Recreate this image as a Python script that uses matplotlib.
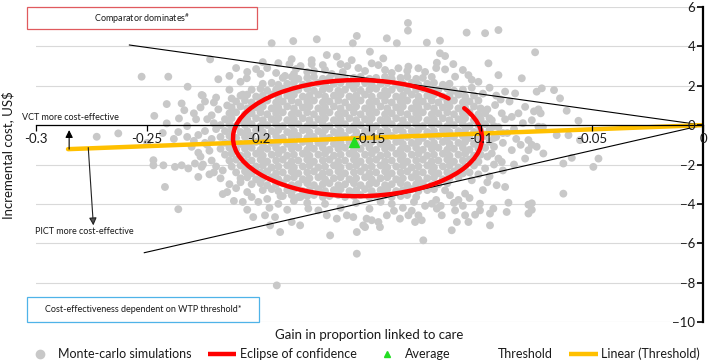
import matplotlib
matplotlib.use('Agg')
import numpy as np
import matplotlib.pyplot as plt
from matplotlib.patches import Arc, Rectangle
from matplotlib.lines import Line2D

plt.rcParams['font.family'] = ['Lato', 'DejaVu Sans']
plt.rcParams['mathtext.fontset'] = 'custom'
plt.rcParams['mathtext.rm'] = 'Lato'
plt.rcParams['mathtext.default'] = 'regular'

# ---------------- data ----------------
x_ticks = [-0.3, -0.25, -0.2, -0.15, -0.1, -0.05, 0]
x_tick_labels = ['-0.3', '-0.25', '-0.2', '-0.15', '-0.1', '-0.05', '0']
y_ticks = [-10, -8, -6, -4, -2, 0, 2, 4, 6]

# Monte-carlo simulations: dense core of the cloud (read row by row)
mc_core = [
    (-0.189,2.4),(-0.185,2.45),(-0.182,2.35),(-0.178,2.4),(-0.175,2.45),(-0.171,2.35),(-0.168,2.4),(-0.164,2.45),(-0.161,2.35),(-0.157,2.4),(-0.154,2.45),(-0.150,2.35),(-0.147,2.4),(-0.143,2.45),(-0.140,2.35),(-0.136,2.4),(-0.133,2.45),(-0.129,2.35),(-0.126,2.4),(-0.122,2.45),
    (-0.198,2.1),(-0.194,2.15),(-0.191,2.05),(-0.187,2.1),(-0.184,2.15),(-0.180,2.05),(-0.177,2.1),(-0.173,2.15),(-0.170,2.05),(-0.166,2.1),(-0.163,2.15),(-0.159,2.05),(-0.156,2.1),(-0.152,2.15),(-0.149,2.05),(-0.145,2.1),(-0.142,2.15),(-0.138,2.05),(-0.135,2.1),(-0.131,2.15),(-0.128,2.05),(-0.124,2.1),(-0.121,2.15),(-0.117,2.05),(-0.114,2.1),
    (-0.203,1.8),(-0.199,1.85),(-0.196,1.75),(-0.192,1.8),(-0.189,1.85),(-0.185,1.75),(-0.182,1.8),(-0.178,1.85),(-0.175,1.75),(-0.171,1.8),(-0.168,1.85),(-0.164,1.75),(-0.161,1.8),(-0.157,1.85),(-0.154,1.75),(-0.150,1.8),(-0.147,1.85),(-0.143,1.75),(-0.140,1.8),(-0.136,1.85),(-0.133,1.75),(-0.129,1.8),(-0.126,1.85),(-0.122,1.75),(-0.119,1.8),(-0.115,1.85),(-0.112,1.75),(-0.108,1.8),
    (-0.208,1.5),(-0.205,1.55),(-0.201,1.45),(-0.198,1.5),(-0.194,1.55),(-0.191,1.45),(-0.187,1.5),(-0.184,1.55),(-0.180,1.45),(-0.177,1.5),(-0.173,1.55),(-0.170,1.45),(-0.166,1.5),(-0.163,1.55),(-0.159,1.45),(-0.156,1.5),(-0.152,1.55),(-0.149,1.45),(-0.145,1.5),(-0.142,1.55),(-0.138,1.45),(-0.135,1.5),(-0.131,1.55),(-0.128,1.45),(-0.124,1.5),(-0.121,1.55),(-0.117,1.45),(-0.114,1.5),(-0.110,1.55),(-0.107,1.45),(-0.103,1.5),
    (-0.210,1.2),(-0.206,1.25),(-0.203,1.15),(-0.199,1.2),(-0.196,1.25),(-0.192,1.15),(-0.189,1.2),(-0.185,1.25),(-0.182,1.15),(-0.178,1.2),(-0.175,1.25),(-0.171,1.15),(-0.168,1.2),(-0.164,1.25),(-0.161,1.15),(-0.157,1.2),(-0.154,1.25),(-0.150,1.15),(-0.147,1.2),(-0.143,1.25),(-0.140,1.15),(-0.136,1.2),(-0.133,1.25),(-0.129,1.15),(-0.126,1.2),(-0.122,1.25),(-0.119,1.15),(-0.115,1.2),(-0.112,1.25),(-0.108,1.15),(-0.105,1.2),(-0.101,1.25),
    (-0.212,0.9),(-0.208,0.95),(-0.205,0.85),(-0.201,0.9),(-0.198,0.95),(-0.194,0.85),(-0.191,0.9),(-0.187,0.95),(-0.184,0.85),(-0.180,0.9),(-0.177,0.95),(-0.173,0.85),(-0.170,0.9),(-0.166,0.95),(-0.163,0.85),(-0.159,0.9),(-0.156,0.95),(-0.152,0.85),(-0.149,0.9),(-0.145,0.95),(-0.142,0.85),(-0.138,0.9),(-0.135,0.95),(-0.131,0.85),(-0.128,0.9),(-0.124,0.95),(-0.121,0.85),(-0.117,0.9),(-0.114,0.95),(-0.110,0.85),(-0.107,0.9),(-0.103,0.95),(-0.100,0.85),
    (-0.213,0.6),(-0.210,0.65),(-0.206,0.55),(-0.203,0.6),(-0.199,0.65),(-0.196,0.55),(-0.192,0.6),(-0.189,0.65),(-0.185,0.55),(-0.182,0.6),(-0.178,0.65),(-0.175,0.55),(-0.171,0.6),(-0.168,0.65),(-0.164,0.55),(-0.161,0.6),(-0.157,0.65),(-0.154,0.55),(-0.150,0.6),(-0.147,0.65),(-0.143,0.55),(-0.140,0.6),(-0.136,0.65),(-0.133,0.55),(-0.129,0.6),(-0.126,0.65),(-0.122,0.55),(-0.119,0.6),(-0.115,0.65),(-0.112,0.55),(-0.108,0.6),(-0.105,0.65),(-0.101,0.55),(-0.098,0.6),
    (-0.215,0.3),(-0.212,0.35),(-0.208,0.25),(-0.205,0.3),(-0.201,0.35),(-0.198,0.25),(-0.194,0.3),(-0.191,0.35),(-0.187,0.25),(-0.184,0.3),(-0.180,0.35),(-0.177,0.25),(-0.173,0.3),(-0.170,0.35),(-0.166,0.25),(-0.163,0.3),(-0.159,0.35),(-0.156,0.25),(-0.152,0.3),(-0.149,0.35),(-0.145,0.25),(-0.142,0.3),(-0.138,0.35),(-0.135,0.25),(-0.131,0.3),(-0.128,0.35),(-0.124,0.25),(-0.121,0.3),(-0.117,0.35),(-0.114,0.25),(-0.110,0.3),(-0.107,0.35),(-0.103,0.25),(-0.100,0.3),(-0.096,0.35),
    (-0.217,0.0),(-0.213,0.05),(-0.210,-0.05),(-0.206,0.0),(-0.203,0.05),(-0.199,-0.05),(-0.196,0.0),(-0.192,0.05),(-0.189,-0.05),(-0.185,0.0),(-0.182,0.05),(-0.178,-0.05),(-0.175,0.0),(-0.171,0.05),(-0.168,-0.05),(-0.164,0.0),(-0.161,0.05),(-0.157,-0.05),(-0.154,0.0),(-0.150,0.05),(-0.147,-0.05),(-0.143,0.0),(-0.140,0.05),(-0.136,-0.05),(-0.133,0.0),(-0.129,0.05),(-0.126,-0.05),(-0.122,0.0),(-0.119,0.05),(-0.115,-0.05),(-0.112,0.0),(-0.108,0.05),(-0.105,-0.05),(-0.101,0.0),(-0.098,0.05),(-0.094,-0.05),
    (-0.215,-0.3),(-0.212,-0.25),(-0.208,-0.35),(-0.205,-0.3),(-0.201,-0.25),(-0.198,-0.35),(-0.194,-0.3),(-0.191,-0.25),(-0.187,-0.35),(-0.184,-0.3),(-0.180,-0.25),(-0.177,-0.35),(-0.173,-0.3),(-0.170,-0.25),(-0.166,-0.35),(-0.163,-0.3),(-0.159,-0.25),(-0.156,-0.35),(-0.152,-0.3),(-0.149,-0.25),(-0.145,-0.35),(-0.142,-0.3),(-0.138,-0.25),(-0.135,-0.35),(-0.131,-0.3),(-0.128,-0.25),(-0.124,-0.35),(-0.121,-0.3),(-0.117,-0.25),(-0.114,-0.35),(-0.110,-0.3),(-0.107,-0.25),(-0.103,-0.35),(-0.100,-0.3),(-0.096,-0.25),
    (-0.217,-0.6),(-0.213,-0.55),(-0.210,-0.65),(-0.206,-0.6),(-0.203,-0.55),(-0.199,-0.65),(-0.196,-0.6),(-0.192,-0.55),(-0.189,-0.65),(-0.185,-0.6),(-0.182,-0.55),(-0.178,-0.65),(-0.175,-0.6),(-0.171,-0.55),(-0.168,-0.65),(-0.164,-0.6),(-0.161,-0.55),(-0.157,-0.65),(-0.154,-0.6),(-0.150,-0.55),(-0.147,-0.65),(-0.143,-0.6),(-0.140,-0.55),(-0.136,-0.65),(-0.133,-0.6),(-0.129,-0.55),(-0.126,-0.65),(-0.122,-0.6),(-0.119,-0.55),(-0.115,-0.65),(-0.112,-0.6),(-0.108,-0.55),(-0.105,-0.65),(-0.101,-0.6),(-0.098,-0.55),(-0.094,-0.65),
    (-0.215,-0.9),(-0.212,-0.85),(-0.208,-0.95),(-0.205,-0.9),(-0.201,-0.85),(-0.198,-0.95),(-0.194,-0.9),(-0.191,-0.85),(-0.187,-0.95),(-0.184,-0.9),(-0.180,-0.85),(-0.177,-0.95),(-0.173,-0.9),(-0.170,-0.85),(-0.166,-0.95),(-0.163,-0.9),(-0.159,-0.85),(-0.156,-0.95),(-0.152,-0.9),(-0.149,-0.85),(-0.145,-0.95),(-0.142,-0.9),(-0.138,-0.85),(-0.135,-0.95),(-0.131,-0.9),(-0.128,-0.85),(-0.124,-0.95),(-0.121,-0.9),(-0.117,-0.85),(-0.114,-0.95),(-0.110,-0.9),(-0.107,-0.85),(-0.103,-0.95),(-0.100,-0.9),(-0.096,-0.85),
    (-0.217,-1.2),(-0.213,-1.15),(-0.210,-1.25),(-0.206,-1.2),(-0.203,-1.15),(-0.199,-1.25),(-0.196,-1.2),(-0.192,-1.15),(-0.189,-1.25),(-0.185,-1.2),(-0.182,-1.15),(-0.178,-1.25),(-0.175,-1.2),(-0.171,-1.15),(-0.168,-1.25),(-0.164,-1.2),(-0.161,-1.15),(-0.157,-1.25),(-0.154,-1.2),(-0.150,-1.15),(-0.147,-1.25),(-0.143,-1.2),(-0.140,-1.15),(-0.136,-1.25),(-0.133,-1.2),(-0.129,-1.15),(-0.126,-1.25),(-0.122,-1.2),(-0.119,-1.15),(-0.115,-1.25),(-0.112,-1.2),(-0.108,-1.15),(-0.105,-1.25),(-0.101,-1.2),(-0.098,-1.15),
    (-0.215,-1.5),(-0.212,-1.45),(-0.208,-1.55),(-0.205,-1.5),(-0.201,-1.45),(-0.198,-1.55),(-0.194,-1.5),(-0.191,-1.45),(-0.187,-1.55),(-0.184,-1.5),(-0.180,-1.45),(-0.177,-1.55),(-0.173,-1.5),(-0.170,-1.45),(-0.166,-1.55),(-0.163,-1.5),(-0.159,-1.45),(-0.156,-1.55),(-0.152,-1.5),(-0.149,-1.45),(-0.145,-1.55),(-0.142,-1.5),(-0.138,-1.45),(-0.135,-1.55),(-0.131,-1.5),(-0.128,-1.45),(-0.124,-1.55),(-0.121,-1.5),(-0.117,-1.45),(-0.114,-1.55),(-0.110,-1.5),(-0.107,-1.45),(-0.103,-1.55),(-0.100,-1.5),
    (-0.213,-1.8),(-0.210,-1.75),(-0.206,-1.85),(-0.203,-1.8),(-0.199,-1.75),(-0.196,-1.85),(-0.192,-1.8),(-0.189,-1.75),(-0.185,-1.85),(-0.182,-1.8),(-0.178,-1.75),(-0.175,-1.85),(-0.171,-1.8),(-0.168,-1.75),(-0.164,-1.85),(-0.161,-1.8),(-0.157,-1.75),(-0.154,-1.85),(-0.150,-1.8),(-0.147,-1.75),(-0.143,-1.85),(-0.140,-1.8),(-0.136,-1.75),(-0.133,-1.85),(-0.129,-1.8),(-0.126,-1.75),(-0.122,-1.85),(-0.119,-1.8),(-0.115,-1.75),(-0.112,-1.85),(-0.108,-1.8),(-0.105,-1.75),(-0.101,-1.85),
    (-0.212,-2.1),(-0.208,-2.05),(-0.205,-2.15),(-0.201,-2.1),(-0.198,-2.05),(-0.194,-2.15),(-0.191,-2.1),(-0.187,-2.05),(-0.184,-2.15),(-0.180,-2.1),(-0.177,-2.05),(-0.173,-2.15),(-0.170,-2.1),(-0.166,-2.05),(-0.163,-2.15),(-0.159,-2.1),(-0.156,-2.05),(-0.152,-2.15),(-0.149,-2.1),(-0.145,-2.05),(-0.142,-2.15),(-0.138,-2.1),(-0.135,-2.05),(-0.131,-2.15),(-0.128,-2.1),(-0.124,-2.05),(-0.121,-2.15),(-0.117,-2.1),(-0.114,-2.05),(-0.110,-2.15),(-0.107,-2.1),(-0.103,-2.05),
    (-0.210,-2.4),(-0.206,-2.35),(-0.203,-2.45),(-0.199,-2.4),(-0.196,-2.35),(-0.192,-2.45),(-0.189,-2.4),(-0.185,-2.35),(-0.182,-2.45),(-0.178,-2.4),(-0.175,-2.35),(-0.171,-2.45),(-0.168,-2.4),(-0.164,-2.35),(-0.161,-2.45),(-0.157,-2.4),(-0.154,-2.35),(-0.150,-2.45),(-0.147,-2.4),(-0.143,-2.35),(-0.140,-2.45),(-0.136,-2.4),(-0.133,-2.35),(-0.129,-2.45),(-0.126,-2.4),(-0.122,-2.35),(-0.119,-2.45),(-0.115,-2.4),(-0.112,-2.35),(-0.108,-2.45),(-0.105,-2.4),
    (-0.208,-2.7),(-0.205,-2.65),(-0.201,-2.75),(-0.198,-2.7),(-0.194,-2.65),(-0.191,-2.75),(-0.187,-2.7),(-0.184,-2.65),(-0.180,-2.75),(-0.177,-2.7),(-0.173,-2.65),(-0.170,-2.75),(-0.166,-2.7),(-0.163,-2.65),(-0.159,-2.75),(-0.156,-2.7),(-0.152,-2.65),(-0.149,-2.75),(-0.145,-2.7),(-0.142,-2.65),(-0.138,-2.75),(-0.135,-2.7),(-0.131,-2.65),(-0.128,-2.75),(-0.124,-2.7),(-0.121,-2.65),(-0.117,-2.75),(-0.114,-2.7),(-0.110,-2.65),
    (-0.203,-3.0),(-0.199,-2.95),(-0.196,-3.05),(-0.192,-3.0),(-0.189,-2.95),(-0.185,-3.05),(-0.182,-3.0),(-0.178,-2.95),(-0.175,-3.05),(-0.171,-3.0),(-0.168,-2.95),(-0.164,-3.05),(-0.161,-3.0),(-0.157,-2.95),(-0.154,-3.05),(-0.150,-3.0),(-0.147,-2.95),(-0.143,-3.05),(-0.140,-3.0),(-0.136,-2.95),(-0.133,-3.05),(-0.129,-3.0),(-0.126,-2.95),(-0.122,-3.05),(-0.119,-3.0),(-0.115,-2.95),
    (-0.198,-3.3),(-0.194,-3.25),(-0.191,-3.35),(-0.187,-3.3),(-0.184,-3.25),(-0.180,-3.35),(-0.177,-3.3),(-0.173,-3.25),(-0.170,-3.35),(-0.166,-3.3),(-0.163,-3.25),(-0.159,-3.35),(-0.156,-3.3),(-0.152,-3.25),(-0.149,-3.35),(-0.145,-3.3),(-0.142,-3.25),(-0.138,-3.35),(-0.135,-3.3),(-0.131,-3.25),(-0.128,-3.35),(-0.124,-3.3),(-0.121,-3.25),
    (-0.189,-3.6),(-0.185,-3.55),(-0.182,-3.65),(-0.178,-3.6),(-0.175,-3.55),(-0.171,-3.65),(-0.168,-3.6),(-0.164,-3.55),(-0.161,-3.65),(-0.157,-3.6),(-0.154,-3.55),(-0.150,-3.65),(-0.147,-3.6),(-0.143,-3.55),(-0.140,-3.65),(-0.136,-3.6),(-0.133,-3.55),(-0.129,-3.65),
]

# Monte-carlo simulations: scattered points around the core
mc_outer = [
    (-0.2525,2.46),(-0.2405,2.46),(-0.2318,1.95),(-0.2255,1.53),(-0.2412,1.07),(-0.2345,1.10),(-0.2333,0.76),(-0.2468,0.47),
    (-0.2357,0.34),(-0.2412,0.09),(-0.232,-0.05),(-0.228,0.30),(-0.226,0.90),(-0.224,1.20),(-0.221,0.50),(-0.220,0.10),
    (-0.2727,-0.59),(-0.263,-0.42),
    (-0.194,4.16),(-0.1843,4.27),(-0.1737,4.36),(-0.1575,4.16),(-0.1557,4.53),(-0.1692,3.56),(-0.1647,3.48),(-0.2217,3.34),
    (-0.218,2.33),(-0.2052,2.38),(-0.191,3.15),(-0.186,3.10),(-0.181,3.00),(-0.176,3.10),(-0.171,3.05),(-0.201,2.85),
    (-0.199,2.60),(-0.192,2.65),(-0.188,2.50),(-0.184,2.60),(-0.176,3.30),(-0.162,2.70),(-0.155,2.90),(-0.167,2.60),(-0.175,2.75),
    (-0.205,2.70),(-0.196,2.90),(-0.183,2.85),(-0.178,2.70),(-0.170,2.80),(-0.160,3.00),(-0.152,2.75),(-0.146,3.05),
    (-0.140,2.65),(-0.133,2.75),(-0.125,2.70),(-0.120,2.90),(-0.108,2.80),(-0.104,2.30),(-0.158,3.30),(-0.163,3.10),
    (-0.185,3.35),(-0.198,3.20),(-0.210,2.90),(-0.213,2.50),(-0.208,2.20),(-0.213,1.80),
    (-0.225,1.50),(-0.219,1.40),(-0.220,1.15),(-0.212,1.35),(-0.207,1.55),(-0.214,1.00),(-0.218,0.80),
    (-0.1327,5.19),(-0.1327,4.80),(-0.1422,4.41),(-0.1377,4.16),(-0.1242,4.19),(-0.1183,4.29),(-0.1063,4.70),(-0.098,4.67),(-0.092,4.83),
    (-0.1498,3.73),(-0.1438,3.39),(-0.149,3.14),(-0.143,2.80),(-0.137,2.89),(-0.1325,2.97),(-0.128,2.89),(-0.1197,3.17),
    (-0.116,3.51),(-0.1183,3.65),(-0.1123,3.10),(-0.116,2.83),(-0.1115,2.46),(-0.1055,2.54),(-0.0965,3.14),(-0.092,2.54),
    (-0.101,2.20),(-0.0815,2.38),(-0.089,1.70),(-0.0845,1.61),(-0.080,0.93),(-0.086,0.42),(-0.077,0.25),(-0.0935,1.02),
    (-0.0905,0.60),(-0.095,0.25),
    (-0.0755,3.70),(-0.0725,1.87),(-0.0748,1.70),(-0.067,1.78),(-0.0643,1.36),(-0.076,0.70),(-0.073,0.60),(-0.074,0.80),
    (-0.0613,0.73),(-0.056,0.22),(-0.074,-0.08),(-0.072,-0.10),
    (-0.104,1.90),(-0.099,1.60),(-0.096,1.90),(-0.091,1.30),(-0.087,1.20),(-0.083,0.60),(-0.089,0.30),(-0.092,-0.10),
    (-0.085,-0.20),(-0.081,0.10),(-0.097,0.80),(-0.093,1.50),
    (-0.0658,-0.51),(-0.0605,-0.51),(-0.0553,-0.76),(-0.047,-1.70),(-0.0493,-2.12),(-0.0628,-1.95),(-0.0748,-1.10),
    (-0.0718,-1.44),(-0.077,-1.00),(-0.059,-1.66),(-0.0628,-3.48),(-0.077,-3.97),(-0.077,-4.30),
    (-0.0785,-0.76),(-0.0785,-1.27),(-0.086,-1.27),(-0.092,-1.70),(-0.0905,-1.87),(-0.095,-1.44),(-0.098,-2.20),
    (-0.0928,-3.05),(-0.089,-3.14),(-0.107,-3.48),(-0.1138,-3.56),(-0.116,-3.31),
    (-0.096,-0.30),(-0.093,-0.60),(-0.090,-0.90),(-0.088,-0.40),(-0.084,-0.70),(-0.082,-1.00),(-0.094,-1.10),(-0.097,-1.60),
    (-0.101,-2.50),(-0.096,-2.60),(-0.090,-2.30),(-0.085,-2.00),(-0.080,-1.70),(-0.104,-2.80),(-0.099,-3.30),(-0.110,-3.80),(-0.105,-3.70),
    (-0.090,-0.40),(-0.094,-2.00),(-0.097,-2.90),
    (-0.1003,-3.99),(-0.1003,-4.33),(-0.1025,-4.55),(-0.0958,-4.49),(-0.0943,-4.24),(-0.0883,-4.41),(-0.0875,-3.94),
    (-0.0785,-4.04),(-0.0785,-4.49),(-0.0958,-5.09),
    (-0.1115,-4.33),(-0.1107,-4.92),(-0.113,-5.34),(-0.1055,-4.92),(-0.107,-4.58),(-0.1197,-4.24),(-0.1175,-4.58),(-0.122,-3.99),
    (-0.1258,-5.85),
    (-0.1325,-4.58),(-0.1295,-4.92),(-0.1265,-4.83),(-0.128,-4.58),(-0.1363,-4.75),(-0.1422,-4.58),(-0.146,-4.92),
    (-0.1453,-5.18),(-0.149,-4.83),(-0.152,-5.18),
    (-0.130,-3.90),(-0.135,-4.20),(-0.140,-4.00),(-0.125,-4.10),(-0.131,-4.35),(-0.120,-3.80),
    (-0.195,-4.20),(-0.187,-4.30),(-0.178,-3.95),(-0.170,-4.00),(-0.163,-4.20),(-0.156,-3.95),(-0.150,-4.25),(-0.145,-3.90),
    (-0.139,-4.35),(-0.118,-4.10),(-0.112,-3.95),(-0.108,-4.10),(-0.214,-3.40),(-0.205,-4.30),
    (-0.1557,-6.53),(-0.1917,-8.14),
    (-0.2023,-4.67),(-0.197,-4.58),(-0.1925,-4.67),(-0.1947,-5.09),(-0.1902,-5.43),(-0.185,-4.92),(-0.1812,-5.09),
    (-0.1775,-4.24),(-0.173,-4.33),(-0.1692,-4.58),(-0.1647,-4.75),(-0.1602,-4.58),(-0.1573,-4.67),(-0.1677,-5.60),
    (-0.1557,-5.43),(-0.1528,-5.09),(-0.1513,-4.75),
    (-0.216,-3.50),(-0.211,-3.85),(-0.207,-3.90),(-0.203,-3.65),(-0.200,-3.90),(-0.196,-3.75),(-0.191,-4.00),(-0.190,-3.60),
    (-0.184,-3.85),(-0.181,-3.65),
    (-0.2249,-2.00),(-0.222,-2.50),(-0.219,-2.10),(-0.217,-2.70),(-0.213,-3.00),(-0.210,-3.20),(-0.208,-2.90),(-0.205,-3.40),(-0.216,-2.30),
    (-0.227,-0.50),(-0.224,-0.90),(-0.222,-1.30),(-0.226,-1.60),(-0.221,-1.80),(-0.219,-0.20),(-0.224,-0.30),(-0.230,-1.10),
    (-0.221,-0.70),(-0.223,0.30),(-0.229,0.60),(-0.223,-1.00),(-0.227,-1.40),(-0.220,-2.40),
    (-0.2472,-1.78),(-0.2427,-2.04),(-0.2472,-2.04),(-0.2375,-2.12),(-0.2345,-2.04),(-0.2315,-2.20),(-0.2285,-1.95),
    (-0.2255,-2.12),(-0.227,-2.63),(-0.242,-3.14),(-0.236,-4.27),
    (-0.243,-0.40),(-0.236,-0.35),(-0.232,-0.60),(-0.229,-0.80),(-0.238,-0.70),(-0.250,-0.90),
]

# Confidence ellipse: centre, semi-axes, and the missing stretch (parametric degrees)
ellipse_center = (-0.1554, -0.66)
ellipse_semi_x = 0.056
ellipse_semi_y = 2.95
ellipse_gap_deg = (31, 43)

average_x = [-0.157]
average_y = [-0.87]

threshold_upper_x = [-0.258, 0.0]
threshold_upper_y = [4.07, 0.0]
threshold_lower_x = [-0.2513, 0.0]
threshold_lower_y = [-6.48, 0.0]

linear_threshold_x = [-0.2856, 0.0]
linear_threshold_y = [-1.22, 0.0]

# ---------------- drawing ----------------
GREY = '#C8C8C8'
RED = '#FF0000'
ORANGE = '#FFC000'
GREEN = '#22DD22'
TXT = '#1A1A1A'

fig = plt.figure(figsize=(7.09, 3.63), dpi=100)
ax = fig.add_axes([0.0508, 0.1129, 0.9407, 0.8678])
ax.set_xlim(-0.3, 0)
ax.set_ylim(-10, 6)

for yv in y_ticks:
    ax.axhline(yv, color='#D9D9D9', lw=0.8, zorder=0.5)

pts = np.array(mc_core + mc_outer)
ax.scatter(pts[:, 0], pts[:, 1], s=32, c=GREY, edgecolors='none', zorder=2)

ax.plot(threshold_upper_x, threshold_upper_y, color='black', lw=0.8, zorder=3)
ax.plot(threshold_lower_x, threshold_lower_y, color='black', lw=0.8, zorder=3)

t1, t2 = np.deg2rad(ellipse_gap_deg[1]), np.deg2rad(ellipse_gap_deg[0])
phi1 = np.rad2deg(np.arctan2(ellipse_semi_y * np.sin(t1), ellipse_semi_x * np.cos(t1)))
phi2 = np.rad2deg(np.arctan2(ellipse_semi_y * np.sin(t2), ellipse_semi_x * np.cos(t2))) + 360
arc = Arc(ellipse_center, 2 * ellipse_semi_x, 2 * ellipse_semi_y, theta1=phi1, theta2=phi2,
          edgecolor=RED, lw=3.2, zorder=3.6, capstyle='round')
ax.add_patch(arc)

ax.plot(linear_threshold_x, linear_threshold_y, color=ORANGE, lw=3.2, solid_capstyle='round', zorder=3.5)
ax.plot(average_x, average_y, linestyle='none', marker='^', color=GREEN, ms=7, zorder=5)

# axes styling
ax.spines['top'].set_visible(False)
ax.spines['right'].set_visible(False)
ax.spines['left'].set_position(('data', 0))
ax.spines['bottom'].set_position(('data', 0))
ax.spines['left'].set_linewidth(1.6)
ax.spines['bottom'].set_linewidth(0.9)
ax.spines['left'].set_zorder(4)
ax.spines['bottom'].set_zorder(4)
ax.set_xticks(x_ticks)
ax.set_xticklabels(x_tick_labels)
ax.set_yticks(y_ticks)
ax.tick_params(axis='x', direction='out', length=4, width=0.9, pad=1.5, labelsize=9.5, labelcolor=TXT)
ax.tick_params(axis='y', direction='out', length=4, width=1.2, pad=1.5, labelsize=9.5, labelcolor=TXT)
ax.xaxis.set_zorder(4)
ax.yaxis.set_zorder(4)

# arrows and annotations
ax.annotate('', xy=(-0.2851, -0.25), xytext=(-0.2851, -1.22),
            arrowprops=dict(arrowstyle='-|>', color='black', lw=0.8, mutation_scale=11,
                            shrinkA=0, shrinkB=0), zorder=6)
ax.annotate('', xy=(-0.2742, -5.09), xytext=(-0.2765, -1.14),
            arrowprops=dict(arrowstyle='-|>', edgecolor='#222222', facecolor='#555555', lw=0.8,
                            mutation_scale=11, shrinkA=0, shrinkB=0), zorder=6)

fig.text(22 / 709, 1 - 118 / 363, 'VCT more cost-effective', fontsize=6.5, color=TXT, ha='left', va='center')
fig.text(35 / 709, 1 - 231 / 363, 'PICT more cost-effective', fontsize=6.5, color=TXT, ha='left', va='center')

fig.patches.append(Rectangle((27 / 709, 1 - 29 / 363), 230 / 709, 22 / 363, transform=fig.transFigure,
                             fill=False, edgecolor='#E05A5E', lw=0.9))
fig.text(142 / 709, 1 - 18.5 / 363, r'Comparator dominates$^{\#}$', fontsize=6.5, color=TXT,
         ha='center', va='center')
fig.patches.append(Rectangle((27 / 709, 1 - 322 / 363), 232 / 709, 25 / 363, transform=fig.transFigure,
                             fill=False, edgecolor='#4FB3E8', lw=0.9))
fig.text(143 / 709, 1 - 309.5 / 363, 'Cost-effectiveness dependent on WTP threshold*', fontsize=6.5,
         color=TXT, ha='center', va='center')

fig.text(8 / 709, 1 - 155 / 363, 'Incremental cost, US$', rotation=90, fontsize=9.5, color=TXT,
         ha='center', va='center')
fig.text(369.5 / 709, 1 - 335 / 363, 'Gain in proportion linked to care', fontsize=9.5, color=TXT,
         ha='center', va='center')

handles = [
    Line2D([], [], linestyle='none', marker='o', color=GREY, ms=6),
    Line2D([], [], color=RED, lw=3.2, solid_capstyle='butt'),
    Line2D([], [], linestyle='none', marker='^', color=GREEN, ms=5),
    Line2D([], [], linestyle='none'),
    Line2D([], [], color=ORANGE, lw=3.2, solid_capstyle='butt'),
]
labels = ['Monte-carlo simulations', 'Eclipse of confidence', 'Average', 'Threshold', 'Linear (Threshold)']
fig.legend(handles, labels, loc='center', bbox_to_anchor=(0.512, 1 - 354 / 363), ncol=5, frameon=False,
           fontsize=9, handlelength=2.3, handletextpad=0.25, columnspacing=1.3,
           borderaxespad=0, borderpad=0, labelcolor=TXT)

fig.savefig('out.png', dpi=100)
